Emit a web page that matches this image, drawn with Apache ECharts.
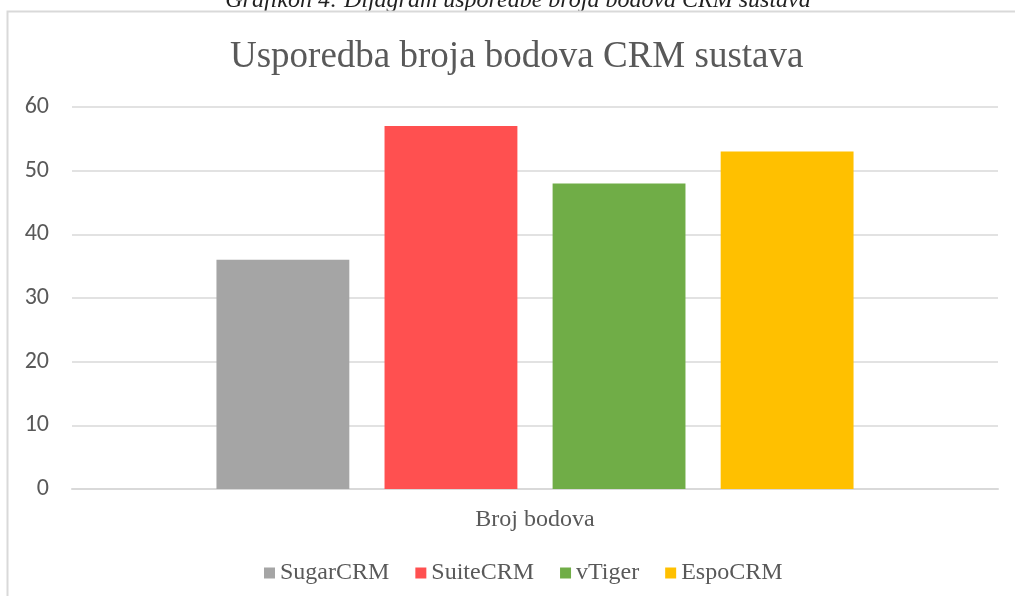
<!DOCTYPE html>
<html>
<head>
<meta charset="utf-8">
<script src="https://cdn.jsdelivr.net/npm/echarts@6/dist/echarts.min.js"></script>
<style>
  html, body { margin: 0; padding: 0; background: #fff; }
  #main { width: 1015px; height: 596px; }
</style>
</head>
<body>
<div id="main"></div>
<script>
    var categories = ['Broj bodova'];
    var seriesNames = ['SugarCRM', 'SuiteCRM', 'vTiger', 'EspoCRM'];
    var seriesValues = [36, 57, 48, 53];
    var seriesColors = ['#a5a5a5', '#ff5050', '#70ad47', '#ffc000'];
    var yTicks = [0, 10, 20, 30, 40, 50, 60];

    var serif = '"Liberation Serif", "Times New Roman", serif';
    var sans = 'Carlito, "Liberation Sans", "Open Sans", sans-serif';

    var chart = echarts.init(document.getElementById('main'));
    chart.setOption({
        animation: false,
        graphic: [
            {
                type: 'rect', silent: true,
                shape: {x: 7.5, y: 11.5, width: 1100, height: 700},
                style: {fill: 'none', stroke: '#d9d9d9', lineWidth: 2}
            },
            {
                type: 'text', silent: true, z: -1,
                style: {
                    x: 518, y: 13,
                    text: 'Grafikon 4: Dijagram usporedbe broja bodova CRM sustava',
                    font: 'italic 24px ' + serif, fill: '#222',
                    align: 'center', verticalAlign: 'bottom'
                }
            }
        ],
        title: {
            text: 'Usporedba broja bodova CRM sustava',
            left: 225, top: 34,
            textStyle: {fontFamily: serif, fontSize: 37, fontWeight: 'normal', color: '#595959'}
        },
        legend: {
            top: 556, left: 259,
            itemWidth: 11, itemHeight: 11, itemGap: 26,
            icon: 'rect',
            textStyle: {fontFamily: serif, fontSize: 24, color: '#595959'},
            data: seriesNames
        },
        grid: {left: 72, right: 17, top: 107, bottom: 107, containLabel: false},
        xAxis: {
            type: 'category',
            data: categories,
            axisLine: {lineStyle: {color: '#d9d9d9', width: 2}},
            axisTick: {show: false},
            axisLabel: {fontFamily: serif, fontSize: 24, color: '#595959', margin: 19}
        },
        yAxis: {
            type: 'value',
            min: yTicks[0], max: yTicks[yTicks.length - 1], interval: 10,
            axisLine: {show: false},
            axisTick: {show: false},
            splitLine: {lineStyle: {color: '#d9d9d9', width: 1.5}},
            axisLabel: {fontFamily: sans, fontSize: 24, color: '#595959', margin: 23}
        },
        series: seriesNames.map(function (name, i) {
            return {
                name: name,
                type: 'bar',
                data: [seriesValues[i]],
                barGap: '26.5%',
                barCategoryGap: '31.2%',
                itemStyle: {color: seriesColors[i]}
            };
        })
    });
</script>
</body>
</html>
